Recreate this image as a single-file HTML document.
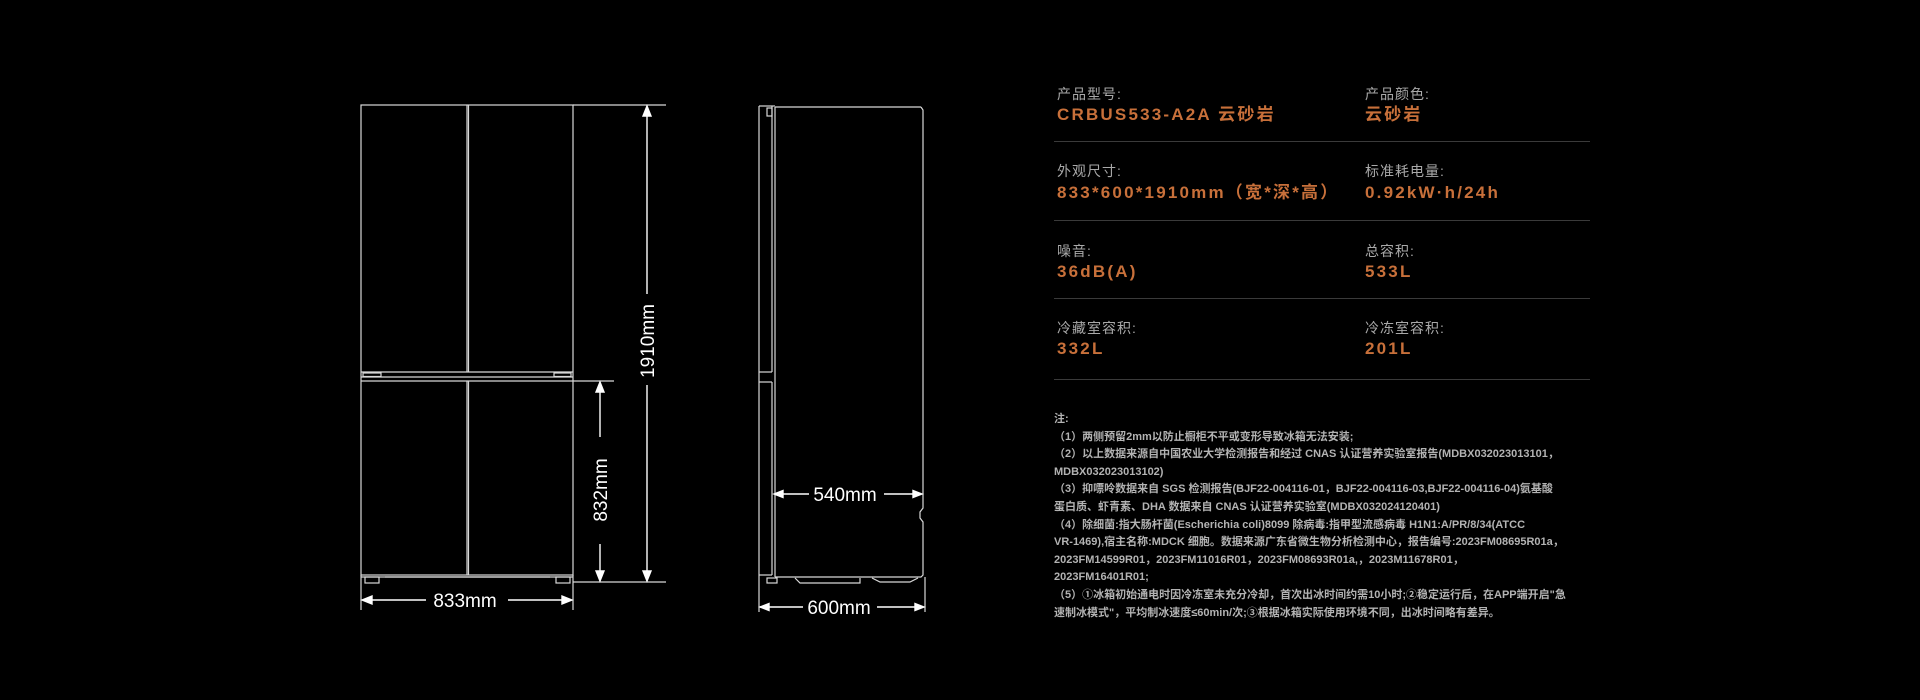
<!DOCTYPE html>
<html><head><meta charset="utf-8"><style>
html,body{margin:0;padding:0;background:#000;}
body{width:1920px;height:700px;position:relative;overflow:hidden;font-family:"Liberation Sans","Noto Sans CJK SC",sans-serif;}
.lab{position:absolute;color:#a9a9a9;font-size:14px;line-height:16px;letter-spacing:1px;}
.val{position:absolute;color:#c8703a;font-size:17px;line-height:20px;font-weight:bold;letter-spacing:2.2px;}
.hr{position:absolute;left:1054px;width:536px;height:1px;background:#3a3a3a;}
.notes{position:absolute;left:1054px;top:411px;width:540px;color:#b3b3b3;font-size:11px;line-height:17.6px;font-weight:bold;}
</style></head><body>
<svg width="1920" height="700" style="position:absolute;left:0;top:0" xmlns="http://www.w3.org/2000/svg">
<g stroke="#d8d8d8" stroke-width="1.2" fill="none">
<!-- front view -->
<rect x="361" y="105" width="212" height="470"/>
<line x1="467" y1="105" x2="467" y2="372"/>
<line x1="468.5" y1="105" x2="468.5" y2="372"/>
<line x1="467" y1="381" x2="467" y2="575"/>
<line x1="468.5" y1="381" x2="468.5" y2="575"/>
<line x1="361" y1="372" x2="573" y2="372"/>
<line x1="361" y1="377" x2="573" y2="377"/>
<line x1="361" y1="381" x2="573" y2="381"/>
<rect x="363" y="373" width="18" height="3.5"/>
<rect x="554" y="373" width="17" height="3.5"/>
<line x1="361" y1="577" x2="573" y2="577"/>
<rect x="365" y="577" width="14" height="6"/>
<rect x="556" y="577" width="14" height="6"/>
<line x1="385" y1="577" x2="550" y2="577"/>
<!-- extension lines -->
<line x1="573" y1="105" x2="666" y2="105"/>
<line x1="573" y1="582" x2="666" y2="582"/>
<line x1="573" y1="381" x2="614" y2="381"/>
<line x1="361" y1="575" x2="361" y2="610"/>
<line x1="573" y1="575" x2="573" y2="610"/>
<!-- side view -->
<line x1="759" y1="106" x2="759" y2="612"/>
<line x1="759" y1="106" x2="775" y2="106"/>
<line x1="772" y1="106" x2="772" y2="372"/>
<line x1="772" y1="382" x2="772" y2="575"/>
<line x1="759" y1="372" x2="772" y2="372"/>
<line x1="759" y1="382" x2="772" y2="382"/>
<rect x="767" y="108" width="5" height="8"/>
<line x1="775" y1="107" x2="775" y2="577"/>
<line x1="775" y1="107" x2="921" y2="107"/>
<polyline points="921,107 923,110 923,508 920,512 920,518 923,522 923,575 921,577 775,577"/>
<line x1="759" y1="575" x2="772" y2="575"/>
<rect x="767" y="578" width="10" height="5"/>
<polyline points="795,578 800,583 860,583 860,578"/>
<polyline points="872,578 880,582 910,582 918,578"/>
<line x1="925" y1="577" x2="925" y2="612"/>
</g>
<g stroke="#fff" stroke-width="1.4" fill="#fff">
<!-- 1910 -->
<line x1="647" y1="108" x2="647" y2="294"/><line x1="647" y1="385" x2="647" y2="579"/>
<polygon points="647,106 643,116 651,116" /><polygon points="647,581 643,571 651,571"/>
<!-- 832 -->
<line x1="600" y1="384" x2="600" y2="437"/><line x1="600" y1="544" x2="600" y2="579"/>
<polygon points="600,382 596,392 604,392"/><polygon points="600,581 596,571 604,571"/>
<!-- 833 -->
<line x1="363" y1="600" x2="426" y2="600"/><line x1="508" y1="600" x2="571" y2="600"/>
<polygon points="362,600 372,596 372,604"/><polygon points="572,600 562,596 562,604"/>
<!-- 540 -->
<line x1="775" y1="494" x2="809" y2="494"/><line x1="884" y1="494" x2="921" y2="494"/>
<polygon points="774,494 783,490.5 783,497.5"/><polygon points="922,494 913,490.5 913,497.5"/>
<!-- 600 -->
<line x1="760" y1="607" x2="803" y2="607"/><line x1="877" y1="607" x2="923" y2="607"/>
<polygon points="760,607 769,603.5 769,610.5"/><polygon points="924,607 915,603.5 915,610.5"/>
</g>
<g fill="#fff" font-family="Liberation Sans, sans-serif" font-size="19" text-anchor="middle">
<text transform="translate(654,341) rotate(-90)">1910mm</text>
<text transform="translate(607,490) rotate(-90)">832mm</text>
<text x="465" y="607">833mm</text>
<text x="845" y="501">540mm</text>
<text x="839" y="614">600mm</text>
</g>
</svg>

<div class="lab" style="left:1057px;top:86px">产品型号:</div>
<div class="val" style="left:1057px;top:105px">CRBUS533-A2A 云砂岩</div>
<div class="lab" style="left:1365px;top:86px">产品颜色:</div>
<div class="val" style="left:1365px;top:105px">云砂岩</div>
<div class="hr" style="top:141px"></div>

<div class="lab" style="left:1057px;top:163px">外观尺寸:</div>
<div class="val" style="left:1057px;top:183px">833*600*1910mm（宽*深*高）</div>
<div class="lab" style="left:1365px;top:163px">标准耗电量:</div>
<div class="val" style="left:1365px;top:183px">0.92kW·h/24h</div>
<div class="hr" style="top:220px"></div>

<div class="lab" style="left:1057px;top:243px">噪音:</div>
<div class="val" style="left:1057px;top:262px">36dB(A)</div>
<div class="lab" style="left:1365px;top:243px">总容积:</div>
<div class="val" style="left:1365px;top:262px">533L</div>
<div class="hr" style="top:298px"></div>

<div class="lab" style="left:1057px;top:320px">冷藏室容积:</div>
<div class="val" style="left:1057px;top:339px">332L</div>
<div class="lab" style="left:1365px;top:320px">冷冻室容积:</div>
<div class="val" style="left:1365px;top:339px">201L</div>
<div class="hr" style="top:379px"></div>

<div class="notes">注:<br>（1）两侧预留2mm以防止橱柜不平或变形导致冰箱无法安装;<br>（2）以上数据来源自中国农业大学检测报告和经过 CNAS 认证营养实验室报告(MDBX032023013101，<br>MDBX032023013102)<br>（3）抑嘌呤数据来自 SGS 检测报告(BJF22-004116-01，BJF22-004116-03,BJF22-004116-04)氨基酸<br>蛋白质、虾青素、DHA 数据来自 CNAS 认证营养实验室(MDBX032024120401)<br>（4）除细菌:指大肠杆菌(Escherichia coli)8099 除病毒:指甲型流感病毒 H1N1:A/PR/8/34(ATCC<br>VR-1469),宿主名称:MDCK 细胞。数据来源广东省微生物分析检测中心，报告编号:2023FM08695R01a，<br>2023FM14599R01，2023FM11016R01，2023FM08693R01a,，2023M11678R01，<br>2023FM16401R01;<br>（5）①冰箱初始通电时因冷冻室未充分冷却，首次出冰时间约需10小时;②稳定运行后，在APP端开启"急<br>速制冰模式"，平均制冰速度≤60min/次;③根据冰箱实际使用环境不同，出冰时间略有差异。</div>
</body></html>
